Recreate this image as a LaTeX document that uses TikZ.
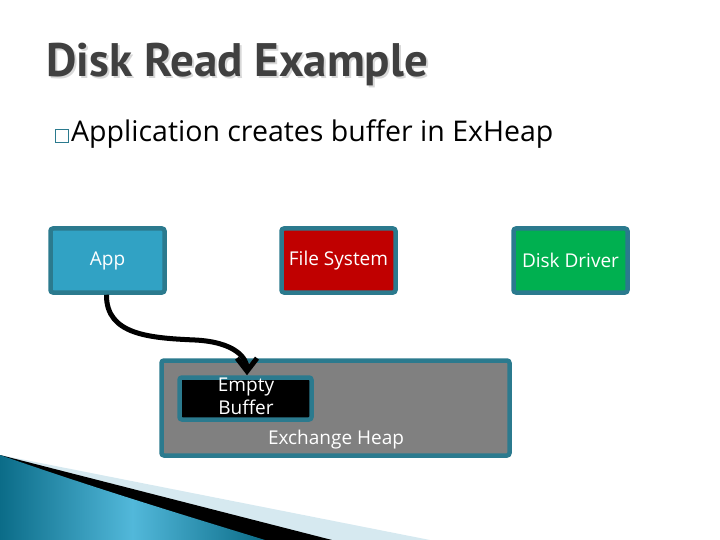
\documentclass[tikz,border=0pt]{standalone}
\usepackage{fontspec}
\setmainfont{PT Sans}
\newfontfamily\boxfont{Open Sans}
\usetikzlibrary{arrows.meta}
\definecolor{tealb}{HTML}{2B7A8E}
\definecolor{appblue}{HTML}{31A2C4}
\definecolor{fsred}{HTML}{C00000}
\definecolor{ddgreen}{HTML}{00B050}
\definecolor{heapgray}{HTML}{808080}
\definecolor{titlegray}{HTML}{404040}
\definecolor{shadowgray}{HTML}{D8D8D8}
\definecolor{paleblue}{HTML}{D6E9F0}
\definecolor{swdark}{HTML}{0B6C88}
\definecolor{swlight}{HTML}{52B8DA}
\tikzset{
  boxtext/.style={text=white, font=\boxfont\fontsize{19}{23}\selectfont},
  compbox/.style={draw=tealb, line width=4.5pt, rounded corners=2.5pt, inner sep=0pt,
    minimum width=114pt, minimum height=64pt, boxtext},
  flow/.style={line width=5pt, -{Straight Barb[length=13pt,width=20pt,line width=5pt]}},
}
\begin{document}
\begin{tikzpicture}[x=1pt,y=-1pt]
\useasboundingbox (0,0) rectangle (720,540);
% bottom-left decoration
\fill[paleblue] (0,455) -- (430,540) -- (0,540) -- cycle;
\fill[black] (0,455) -- (332,540) -- (0,540) -- cycle;
\shade[left color=swdark, right color=swdark, middle color=swlight] (0,455) .. controls (100,490) and (200,520) .. (265,540) -- (0,540) -- cycle;
% title
\node[anchor=base west, text=shadowgray, font=\bfseries\fontsize{47}{52}\selectfont, inner sep=0] (titleshadow) at (48,79) {Disk Read Example};
\node[anchor=base west, text=titlegray, font=\bfseries\fontsize{47}{52}\selectfont, inner sep=0] (title) at (46,77) {Disk Read Example};
% bullet
\node[draw=tealb, line width=0.9pt, minimum size=13pt, inner sep=0] (bullet) at (61.5,135.5) {};
\node[anchor=base west, font=\boxfont\fontsize{28.5}{32}\selectfont, inner sep=0] (btext) at (71,142) {Application creates buffer in ExHeap};
% components
\node[compbox, fill=appblue] (App) at (107.5,260.5) {App};
\node[compbox, fill=fsred] (FS) at (338.5,260.5) {File System};
\node[compbox, fill=ddgreen] (DD) at (570.5,260.5) {Disk Driver};
\node[compbox, fill=heapgray, minimum width=348pt, minimum height=95pt] (heap) at (335.5,408) {};
\node[boxtext] (heaplabel) at (336,440) {Exchange Heap};
\node[compbox, fill=black, minimum width=132pt, minimum height=42pt] (buf) at (245.5,398.5) {};
\node[boxtext, align=center, inner sep=0] (buflabel) at (246,396) {Empty\\Buffer};
% arrow
\draw[flow] ([xshift=-1pt]App.south) .. controls (106,335) and (150,338) .. (195,340) .. controls (235,342) and (247,358) .. ([xshift=1.5pt]buf.north);
\end{tikzpicture}
\end{document}
